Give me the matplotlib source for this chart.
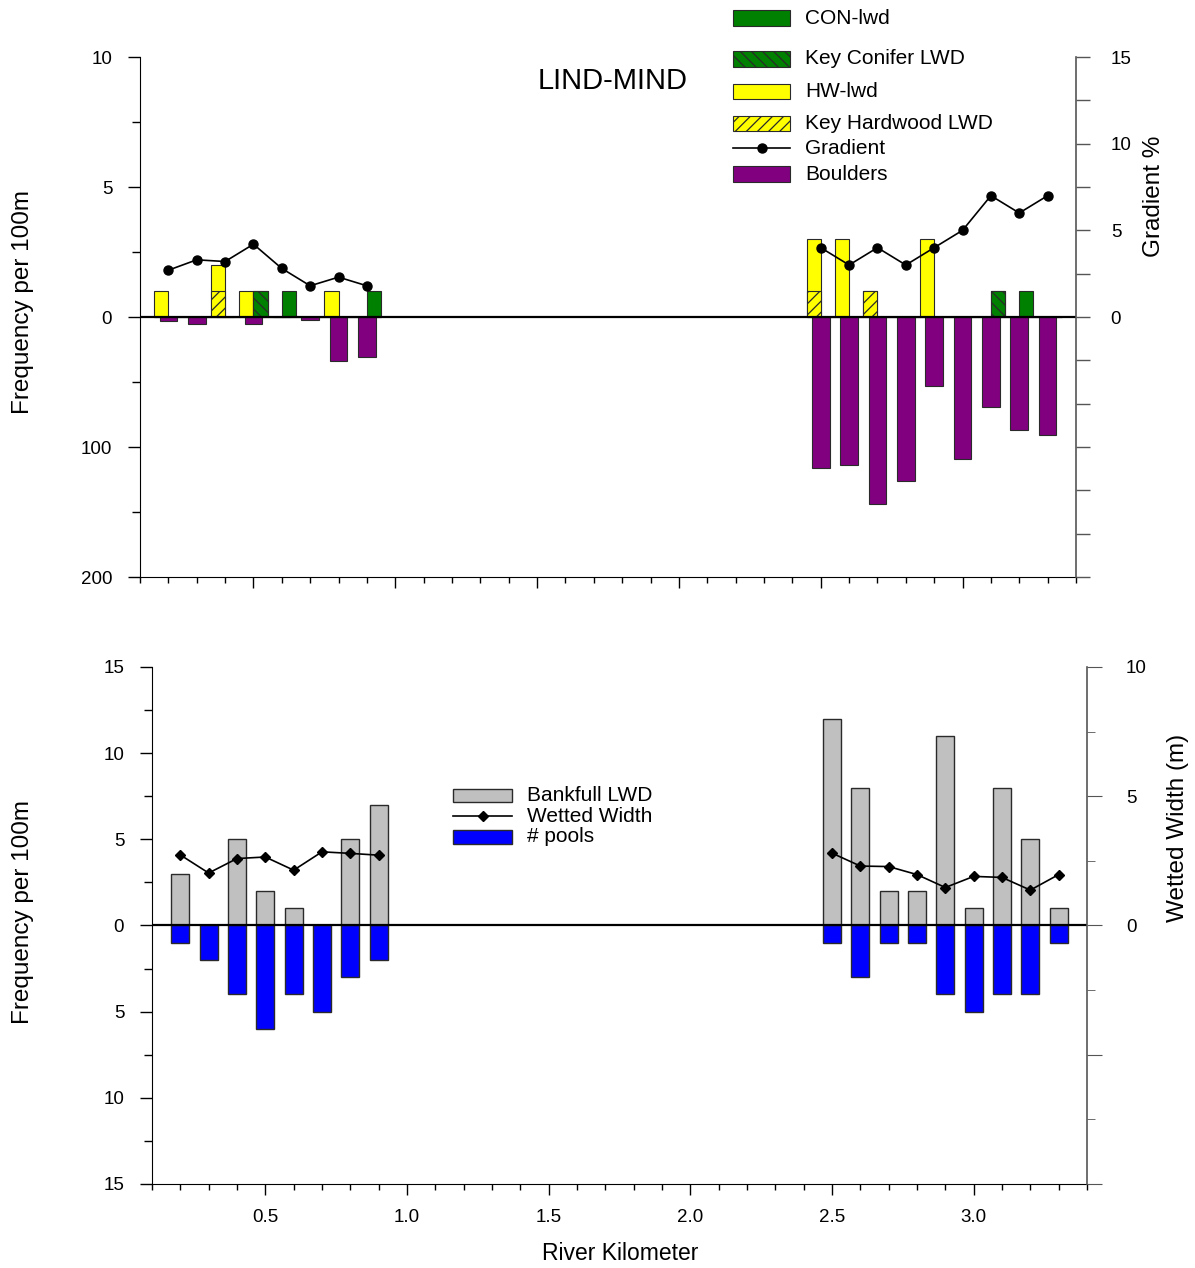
"""
LWD, boulder, gradient and pool survey along Lind-Mind river reach.
"""
import numpy as np
import matplotlib
matplotlib.use("Agg")
import matplotlib.pyplot as plt
from matplotlib.patches import Rectangle
from matplotlib.lines import Line2D

plt.rcParams["font.family"] = ["Liberation Sans", "DejaVu Sans"]
plt.rcParams["hatch.linewidth"] = 0.9

# survey stations (river km)
km = [0.2, 0.3, 0.4, 0.5, 0.6, 0.7, 0.8, 0.9,
      2.5, 2.6, 2.7, 2.8, 2.9, 3.0, 3.1, 3.2, 3.3]

# upper panel: wood counts (per 100 m), boulders, channel gradient
con_lwd = [0, 0, 0, 1, 1, 0, 0, 1, 0, 0, 0, 0, 0, 0, 1, 1, 0]
key_conifer = [0, 0, 0, 1, 0, 0, 0, 0, 0, 0, 0, 0, 0, 0, 1, 0, 0]
hw_lwd = [1, 0, 2, 1, 0, 0, 1, 0, 3, 3, 1, 0, 3, 0, 0, 0, 0]
key_hardwood = [0, 0, 1, 0, 0, 0, 0, 0, 1, 0, 1, 0, 0, 0, 0, 0, 0]
boulders = [3, 5, 0, 5, 0, 2, 34, 31, 116, 114, 144, 126, 53, 109, 69, 87, 91]
gradient = [2.7, 3.3, 3.2, 4.2, 2.8, 1.8, 2.3, 1.8, 4, 3, 4, 3, 4, 5, 7, 6, 7]

# lower panel: bankfull LWD, pools, wetted width
bankfull_lwd = [3, 0, 5, 2, 1, 0, 5, 7, 12, 8, 2, 2, 11, 1, 8, 5, 1]
pools = [1, 2, 4, 6, 4, 5, 3, 2, 1, 3, 1, 1, 4, 5, 4, 4, 1]
wetted_width = [2.73, 2.03, 2.59, 2.65, 2.14, 2.85, 2.79, 2.72,
                2.80, 2.30, 2.28, 1.97, 1.47, 1.90, 1.86, 1.37, 1.97]

BOULDER_SCALE = 20  # 200 boulders per 100 m drawn at -10 on the LWD axis

C_CON = "#008000"
C_HW = "#FFFF00"
C_BOULDER = "#800080"
C_BANK = "#C0C0C0"
C_POOL = "#0000FF"
EDGE = "#2a2a2a"
RSPINE = "#555555"

W, H = 1195, 1268


def fx(px):
    return px / W


def fy(py):
    return 1 - py / H


def style_x(ax, labels=True):
    ax.set_xlim(0.1, 3.4)
    ax.set_xticks([0.5, 1.0, 1.5, 2.0, 2.5, 3.0])
    ax.set_xticks(np.round(np.arange(0.1, 3.41, 0.1), 1), minor=True)
    ax.tick_params(axis="x", which="major", length=8, width=1, pad=10, labelsize=13.5)
    ax.tick_params(axis="x", which="minor", length=4.5, width=1)
    if labels:
        ax.set_xticklabels([f"{t:.1f}" for t in ax.get_xticks()])
    else:
        ax.set_xticklabels([])


def style_right(ax):
    for s in ["top", "left", "bottom"]:
        ax.spines[s].set_visible(False)
    ax.spines["right"].set_color(RSPINE)
    ax.spines["right"].set_linewidth(1.2)
    ax.tick_params(axis="y", which="both", colors=RSPINE, labelcolor="black",
                   labelsize=13.5, pad=15)


fig = plt.figure(figsize=(W / 100, H / 100), dpi=100)

# ---------------- upper panel ----------------
ax1 = fig.add_axes([fx(140), fy(577), fx(936), 520 / H])
x = np.array(km)
bw = 0.05

ax1.bar(x, hw_lwd, width=-bw, align="edge", color=C_HW, edgecolor=EDGE, lw=0.8, zorder=2)
ax1.bar(x, key_hardwood, width=-bw, align="edge", color=C_HW, edgecolor=EDGE, lw=0.8,
        hatch="///", zorder=3)
ax1.bar(x, con_lwd, width=bw, align="edge", color=C_CON, edgecolor=EDGE, lw=0.8, zorder=2)
ax1.bar(x, key_conifer, width=bw, align="edge", color=C_CON, edgecolor=EDGE, lw=0.8,
        hatch="\\\\\\", zorder=3)
ax1.bar(x, -np.array(boulders) / BOULDER_SCALE, width=0.062, color=C_BOULDER,
        edgecolor=EDGE, lw=0.8, zorder=2)
ax1.axhline(0, color="black", lw=1.6, zorder=4)

ax1.set_ylim(-10, 10)
ax1.set_yticks([-10, -5, 0, 5, 10])
ax1.set_yticklabels([str(int(abs(t) * BOULDER_SCALE)) if t < 0 else str(t)
                     for t in [-10, -5, 0, 5, 10]])
ax1.set_yticks([-7.5, -2.5, 2.5, 7.5], minor=True)
ax1.tick_params(axis="y", which="major", length=9, width=1, pad=11, labelsize=13.5)
ax1.tick_params(axis="y", which="minor", length=6, width=1)
ax1.spines["top"].set_visible(False)
ax1.spines["right"].set_visible(False)
style_x(ax1, labels=False)

ax2 = ax1.twinx()
ax2.plot(km[:8], gradient[:8], "o-", color="black", lw=1.2, ms=6.5, zorder=5)
ax2.plot(km[8:], gradient[8:], "o-", color="black", lw=1.2, ms=6.5, zorder=5)
ax2.set_ylim(-15, 15)
gt = np.arange(-15, 15.1, 2.5)
ax2.set_yticks(gt)
ax2.set_yticklabels([f"{t:.0f}" if (t >= 0 and t % 5 == 0) else "" for t in gt])
ax2.tick_params(axis="y", length=10, width=1)
style_right(ax2)

ax1.text(0.505, 0.954, "LIND-MIND", transform=ax1.transAxes, ha="center", va="center",
         fontsize=21)

fig.text(fx(23), fy(302), "Frequency per 100m", rotation=90, ha="center", va="center",
         fontsize=17.5)
fig.text(fx(1154), fy(196), "Gradient %", rotation=90, ha="center", va="center",
         fontsize=17.5)

# legend keys for the upper panel
key_rows = [
    ("CON-lwd", dict(fc=C_CON), 18),
    ("Key Conifer LWD", dict(fc=C_CON, hatch="\\\\\\"), 59),
    ("HW-lwd", dict(fc=C_HW), 91.5),
    ("Key Hardwood LWD", dict(fc=C_HW, hatch="///"), 123.5),
    ("Gradient", None, 148),
    ("Boulders", dict(fc=C_BOULDER), 174),
]
for label, kw, yc in key_rows:
    if kw is None:
        fig.add_artist(Line2D([fx(733), fx(790)], [fy(yc), fy(yc)], color="black", lw=1.2,
                              transform=fig.transFigure))
        fig.add_artist(Line2D([fx(761.5)], [fy(yc)], marker="o", ms=6.5, color="black",
                              transform=fig.transFigure))
    else:
        fig.add_artist(Rectangle((fx(733), fy(yc + 7.5)), fx(57), 15 / H, ec=EDGE, lw=0.8,
                                 transform=fig.transFigure, **kw))
    fig.text(fx(805), fy(yc), label, ha="left", va="center", fontsize=15)

# ---------------- lower panel ----------------
ax3 = fig.add_axes([fx(152), fy(1184), fx(935), 517 / H])
ax3.bar(x, bankfull_lwd, width=0.0625, color=C_BANK, edgecolor=EDGE, lw=1, zorder=2)
ax3.bar(x, -np.array(pools), width=0.0625, color=C_POOL, edgecolor=EDGE, lw=1, zorder=2)
ax3.axhline(0, color="black", lw=1.6, zorder=4)
ax3.set_ylim(-15, 15)
ax3.set_yticks(np.arange(-15, 16, 5))
ax3.set_yticklabels([str(abs(t)) for t in range(-15, 16, 5)])
ax3.set_yticks(np.arange(-12.5, 13, 5), minor=True)
ax3.tick_params(axis="y", which="major", length=9, width=1, pad=11, labelsize=13.5)
ax3.tick_params(axis="y", which="minor", length=6, width=1)
ax3.spines["top"].set_visible(False)
ax3.spines["right"].set_visible(False)
style_x(ax3)

ax4 = ax3.twinx()
ax4.plot(km[:8], wetted_width[:8], "D-", color="black", lw=1.2, ms=5, zorder=5)
ax4.plot(km[8:], wetted_width[8:], "D-", color="black", lw=1.2, ms=5, zorder=5)
ax4.set_ylim(-10, 10)
ax4.set_yticks(np.arange(-10, 11, 5))
ax4.set_yticklabels([str(t) if t >= 0 else "" for t in range(-10, 11, 5)])
ax4.set_yticks(np.arange(-7.5, 8, 5), minor=True)
ax4.tick_params(axis="y", which="major", length=11)
ax4.tick_params(axis="y", which="minor", length=6)
style_right(ax4)
ax4.tick_params(axis="y", pad=17)

fig.text(fx(23), fy(912), "Frequency per 100m", rotation=90, ha="center", va="center",
         fontsize=17.5)
fig.text(fx(1178), fy(828), "Wetted Width (m)", rotation=90, ha="center", va="center",
         fontsize=17.5)
fig.text(fx(620), fy(1254), "River Kilometer", ha="center", va="center", fontsize=16.5)

# legend keys for the lower panel
fig.add_artist(Rectangle((fx(453), fy(802)), fx(59), 13 / H, fc=C_BANK, ec=EDGE, lw=1,
                         transform=fig.transFigure))
fig.add_artist(Line2D([fx(453), fx(512)], [fy(815.5), fy(815.5)], color="black", lw=1.2,
                      transform=fig.transFigure))
fig.add_artist(Line2D([fx(482.5)], [fy(815.5)], marker="D", ms=5, color="black",
                      transform=fig.transFigure))
fig.add_artist(Rectangle((fx(453), fy(844)), fx(59), 14 / H, fc=C_POOL, ec=EDGE, lw=1,
                         transform=fig.transFigure))
for label, yc in [("Bankfull LWD", 795.5), ("Wetted Width", 816), ("# pools", 837)]:
    fig.text(fx(527), fy(yc), label, ha="left", va="center", fontsize=15)

fig.savefig("out.png", dpi=100)
plt.close(fig)
